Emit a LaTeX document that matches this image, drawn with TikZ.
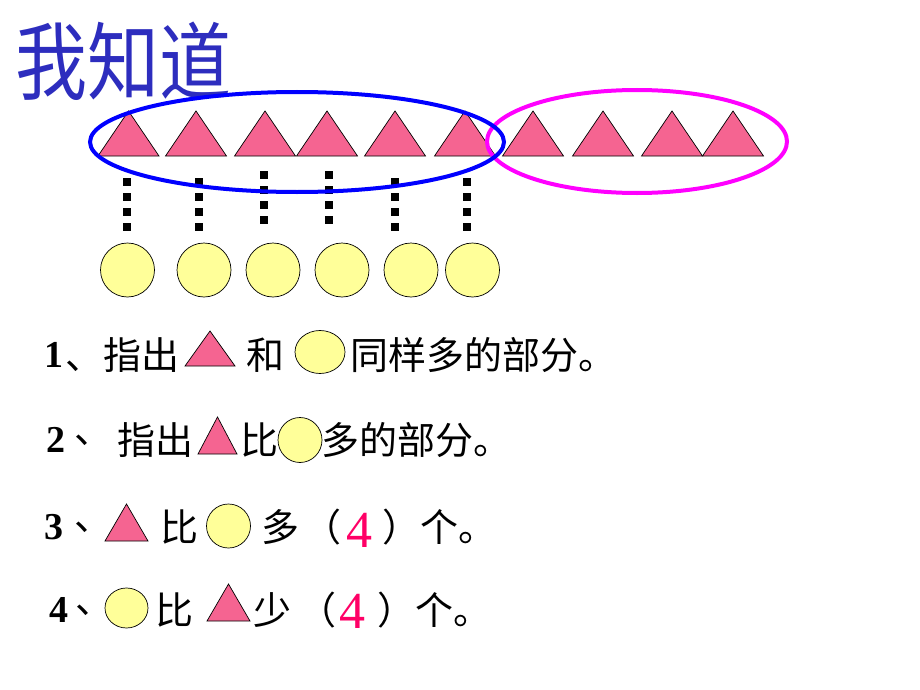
\documentclass[tikz,border=0pt]{standalone}
\usepackage{fontspec}
\setmainfont{Liberation Serif}
\newfontfamily\cjk{Noto Sans CJK SC}
\usetikzlibrary{calc}

\definecolor{tripink}{RGB}{245,100,145}
\definecolor{dotyellow}{RGB}{255,255,153}
\definecolor{ansred}{RGB}{255,0,102}
\definecolor{titleblue}{RGB}{45,45,190}
\definecolor{ringblue}{RGB}{0,0,255}
\definecolor{ringpink}{RGB}{255,0,255}

\begin{document}
\begin{tikzpicture}[x=1pt, y=-1pt,
		tri/.style={draw=black, fill=tripink, line width=0.7pt},
		dot/.style={draw=black, fill=dotyellow, line width=0.7pt},
		dots/.style={line width=7.5pt, dash pattern=on 7.5pt off 7.5pt},
		txt/.style={anchor=west, inner sep=0pt, font=\cjk\fontsize{38}{42}\selectfont},
		num/.style={anchor=west, inner sep=0pt, font=\bfseries\fontsize{38}{42}\selectfont},
		ans/.style={anchor=west, inner sep=0pt, text=ansred, font=\fontsize{52}{56}\selectfont},
		ring/.style={line width=4pt}]
			\useasboundingbox (0,0) rectangle (920,690);
			
			% title
			\node [anchor=west, inner sep=0pt, text=titleblue, xscale=0.9, yscale=1.06, transform shape,
				font=\cjk\fontsize{80}{84}\selectfont] (title) at (15,61) {我知道};
			
			% triangles and circles
			\foreach \x [count=\i] in {128.5,196,265,327,395,465,533,603,672,733}
				\filldraw[tri] (\x,111) coordinate (t\i) -- ++(-30.5,45) -- ++(61,0) -- cycle;
			
			\foreach \x [count=\i] in {127.5,204,273,342,411,472.5}
				\node[dot, circle, minimum size=54pt, inner sep=0pt] (c\i) at (\x,270) {};
			
			\foreach \x/\ya/\yb [count=\i] in {127/178/231, 199/178/231, 264/171/224, 329/171/224, 395/178/231, 467/178/231} {
				\coordinate (d\i top) at (\x,\ya);
				\coordinate (d\i bot) at (\x,\yb);
				\draw[dots] (d\i top) -- (d\i bot);
			}
			
			\coordinate (same) at (297,142);
			\coordinate (more) at (637,141.5);
			\draw[ring, ringpink] (more) ellipse [x radius=150, y radius=51.5];
			\draw[ring, ringblue] (same) ellipse [x radius=207, y radius=50];
			
			% 1
			\node[num] (n1) at (44,355) {1};
			\node[txt] (q1a) at (65,355) {、指出};
			\filldraw[tri] (210,331) coordinate (q1t) -- ++(-25,35) -- ++(50,0) -- cycle;
			\node[txt] (q1b) at (246,355) {和};
			\filldraw[dot] (320,352) coordinate (q1c) ellipse [x radius=25, y radius=21.5];
			\node[txt] (q1d) at (350,355) {同样多的部分。};
			
			% 2
			\node[num] (n2) at (46,440) {2};
			\node[txt] (q2a) at (74,440) {、};
			\node[txt] (q2b) at (117,440) {指出};
			\filldraw[tri] (217.5,417) coordinate (q2t) -- ++(-19.5,37) -- ++(39,0) -- cycle;
			\node[txt] (q2c) at (240,440) {比};
			\filldraw[dot] (300,440) coordinate (q2o) ellipse [x radius=22, y radius=22.5];
			\node[txt] (q2d) at (321,440) {多的部分。};
			
			% 3
			\node[num] (n3) at (44,527) {3};
			\node[txt] (q3a) at (74,527) {、};
			\filldraw[tri] (126.5,504) coordinate (q3t) -- ++(-21.5,37) -- ++(43,0) -- cycle;
			\node[txt] (q3b) at (160,527) {比};
			\filldraw[dot] (228.5,526) coordinate (q3o) ellipse [x radius=22, y radius=22];
			\node[txt] (q3c) at (261,527) {多};
			\node[txt] (q3d) at (303,527) {（};
			\node[ans] (a3) at (346,530.5) {4};
			\node[txt] (q3e) at (382,527) {）个。};
			
			% 4
			\node[num] (n4) at (49,610) {4};
			\node[txt] (q4a) at (75,610) {、};
			\filldraw[dot] (126.5,608) coordinate (q4o) ellipse [x radius=21.5, y radius=20];
			\node[txt] (q4b) at (155,610) {比};
			\filldraw[tri] (228.5,584) coordinate (q4t) -- ++(-21.5,37) -- ++(43,0) -- cycle;
			\node[txt] (q4c) at (253,610) {少};
			\node[txt] (q4d) at (298,610) {（};
			\node[ans] (a4) at (339,611) {4};
			\node[txt] (q4e) at (377,610) {）个。};
		\end{tikzpicture}
\end{document}
